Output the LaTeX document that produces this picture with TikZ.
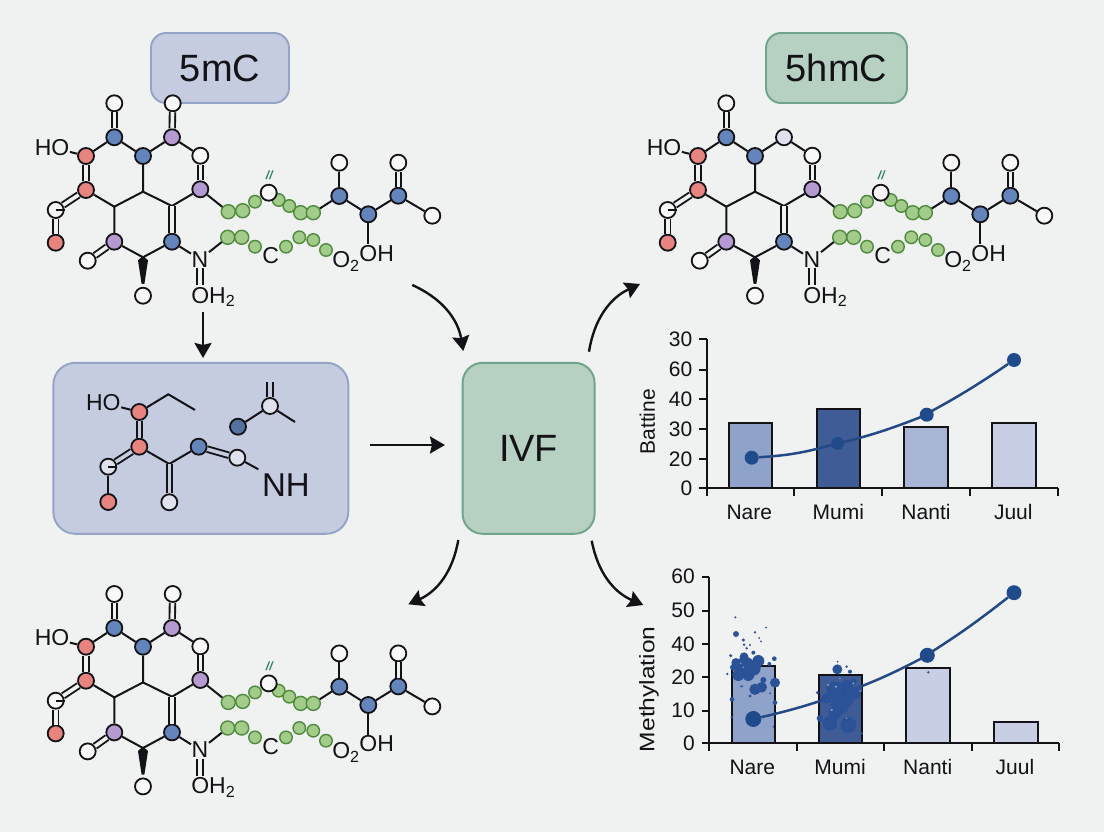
\documentclass[tikz,border=0pt]{standalone}
\usepackage{fontspec}
\setmainfont{Liberation Sans}
\usepackage{xcolor}
\usetikzlibrary{positioning, arrows.meta, calc}

\definecolor{bgcol}{HTML}{F0F1F1}
\definecolor{ink}{HTML}{131317}
\definecolor{blueboxfill}{HTML}{C5CCE0}
\definecolor{blueboxline}{HTML}{95A3C6}
\definecolor{greenboxfill}{HTML}{B6D0C1}
\definecolor{greenboxline}{HTML}{6FA38A}
\definecolor{atomred}{HTML}{E88480}
\definecolor{atomblue}{HTML}{6485BC}
\definecolor{atompurple}{HTML}{B59AD2}
\definecolor{atompale}{HTML}{DFE1EC}
\definecolor{atomwhite}{HTML}{F8F8F8}
\definecolor{chainfill}{HTML}{A3CC8B}
\definecolor{chainline}{HTML}{4F8A3D}
\definecolor{markcol}{HTML}{2F7D5F}
\definecolor{trendcol}{HTML}{244A86}
\definecolor{dotcol}{HTML}{1F4A8C}
\definecolor{spotcol}{HTML}{2B5296}
\definecolor{barone}{HTML}{8FA2CA}
\definecolor{bartwo}{HTML}{3F5C96}
\definecolor{barthree}{HTML}{A9B5D4}
\definecolor{barfour}{HTML}{C8CEE4}

\newcommand{\sz}[1]{\fontsize{#1}{#1}\selectfont}

\tikzset{
  atom/.style={circle, draw=ink, line width=1.8pt, minimum size=16pt, inner sep=0pt},
  redatom/.style={atom, fill=atomred},
  blueatom/.style={atom, fill=atomblue},
  purpleatom/.style={atom, fill=atompurple},
  whiteatom/.style={atom, fill=atomwhite},
  bead/.style={circle, draw=chainline, line width=1.4pt, fill=chainfill, minimum size=14pt, inner sep=0pt},
  smallbead/.style={bead, minimum size=12.5pt},
  lab/.style={inner sep=0.5pt, text=ink, font=\sz{23}},
  bond/.style={line width=2pt, draw=ink, line join=round},
  dbond/.style={line width=1.9pt, draw=ink, double=bgcol, double distance=3.6pt},
  bigbox/.style={draw, line width=1.9pt, rounded corners=#1, text=ink, font=\sz{38}},
  arrow/.style={-{Stealth[length=15pt, width=17pt, inset=2pt]}, line width=2.4pt, draw=ink},
  axisline/.style={line width=1.9pt, draw=ink},
  barbox/.style={line width=2pt, draw=ink},
  trend/.style={line width=2.5pt, draw=trendcol},
  dot/.style={circle, fill=dotcol, minimum size=#1, inner sep=0pt},
  ticklab/.style={inner sep=0pt, text=ink, font=\sz{21}},
  pics/molecule/.style 2 args={code={
    \node[whiteatom] (-o1) at (114.3,103.3) {};
    \node[blueatom] (-a1) at (114.3,137.3) {};
    \node[#1] (-a2) at (172,137.3) {};
    \node[blueatom] (-a3) at (143,156) {};
    \node[whiteatom] (-o3) at (200.3,155.7) {};
    \node[redatom] (-r1) at (86,156) {};
    \node[redatom] (-r2) at (86,190) {};
    \node[whiteatom] (-c1) at (55.7,210) {};
    \node[redatom] (-r3) at (55.7,242.7) {};
    \node[purpleatom] (-p3) at (200.3,189.3) {};
    \node[purpleatom] (-p4) at (114.3,241.7) {};
    \node[blueatom] (-b4) at (172,241.7) {};
    \node[whiteatom] (-o4) at (87.7,260.7) {};
    \node[whiteatom] (-o5) at (143,295.7) {};
    \coordinate (-j1) at (143,191.7);
    \coordinate (-j2) at (114.3,206.7);
    \coordinate (-j3) at (172,206);
    \coordinate (-j4) at (143,257.3);
    \coordinate (-oe) at (200,285);
    \node[lab] (-ho) at (52,147.3) {HO};
    \node[lab] (-n) at (200,259.3) {N};
    \node[lab] (-oh2) at (213.3,297) {OH\textsubscript{2}};
    \node[bead] (-g1) at (228.3,211.7) {};
    \node[bead] (-g2) at (242.7,210.7) {};
    \node[smallbead] (-g3) at (255,201.7) {};
    \node[smallbead] (-g5) at (278.7,200) {};
    \node[smallbead] (-g6) at (289.3,206) {};
    \node[bead] (-g7) at (300.7,212.7) {};
    \node[bead] (-g8) at (313.3,212.7) {};
    \node[atom, fill=#2] (-g4) at (268.7,192.7) {};
    \node[inner sep=0pt, text=markcol, font=\sz{12}\itshape\bfseries] (-mark) at (269.3,175.7) {//};
    \node[bead] (-h1) at (227.7,237.3) {};
    \node[bead] (-h2) at (241.7,237.3) {};
    \node[smallbead] (-h3) at (255,246.7) {};
    \node[lab] (-c) at (270.7,256) {C};
    \node[smallbead] (-h4) at (286,246.7) {};
    \node[smallbead] (-h5) at (299.3,237.3) {};
    \node[smallbead] (-h6) at (313.3,240) {};
    \node[smallbead] (-h7) at (326,250) {};
    \node[lab] (-o2) at (346,261.7) {O\textsubscript{2}};
    \node[blueatom] (-t1) at (339.3,196) {};
    \node[whiteatom] (-t2) at (339.3,162.7) {};
    \node[blueatom] (-t3) at (368.3,214.3) {};
    \node[lab] (-oh) at (376.7,253.3) {OH};
    \node[blueatom] (-t4) at (398.3,195.7) {};
    \node[whiteatom] (-t5) at (398.3,162.7) {};
    \node[whiteatom] (-t6) at (432.3,215.7) {};
    \draw[bond] (-ho) -- (-r1) -- (-a1) -- (-a3) -- (-a2) -- (-o3);
    \draw[bond] (-a3) -- (-j1) -- (-j2) -- (-r2);
    \draw[bond] (-j1) -- (-j3) -- (-p3) -- (-g1);
    \draw[bond] (-j2) -- (-p4) -- (-j4) -- (-b4) -- (-n) -- (-h1);
    \draw[bond] (-g8) -- (-t1) -- (-t3) -- (-t4) -- (-t6);
    \draw[bond] (-t1) -- (-t2);
    \draw[bond] (-t3) -- (-t3 |- -oh.north);
    \draw[dbond] (-a1) -- (-o1);
    \draw[dbond] (-r1) -- (-r2);
    \draw[dbond] (-r2) -- (-c1);
    \draw[dbond] (-c1) -- (-r3);
    \draw[dbond] (-o3) -- (-p3);
    \draw[dbond] (-j3) -- (-b4);
    \draw[dbond] (-p4) -- (-o4);
    \draw[dbond] (-n) -- (-oe);
    \draw[dbond] (-t4) -- (-t5);
    \draw[bond] (-c1.center) -- (-c1.east);
    \fill[ink] ($(-j4)+(0,-1.5)$) -- ($(-j4)+(5,3)$) -- ($(-o5.north)+(1.4,-3)$) -- ($(-o5.north)+(-1.4,-3)$) -- ($(-j4)+(-5,3)$) -- cycle;
  }}
}

\begin{document}
\begin{tikzpicture}[x=1pt, y=-1pt]
  \useasboundingbox (0,0) rectangle (1104,832);
  \fill[bgcol] (0,0) rectangle (1104,832);

  % title boxes
  \node[bigbox=15pt, fill=blueboxfill, draw=blueboxline, minimum width=138pt, minimum height=70pt] (mc) at (220,68) {5mC};
  \node[bigbox=15pt, fill=greenboxfill, draw=greenboxline, minimum width=141pt, minimum height=70pt] (hmc) at (836.5,68) {5hmC};

  % molecules
  \pic (ma) at (0,0) {molecule={purpleatom}{atomwhite}};
  \pic (mb) at (612,0) {molecule={atom, fill=atompale}{atomwhite!90!pink}};
  \pic (mc2) at (0,490.7) {molecule={purpleatom}{atomwhite}};
  \node[whiteatom] (ma-top) at (172.7,103.3) {};
  \node[whiteatom] (mc2-top) at (172.7,594) {};
  \draw[dbond] (ma-a2) -- (ma-top);
  \draw[dbond] (mc2-a2) -- (mc2-top);

  % middle boxes
  \node[bigbox=22pt, fill=blueboxfill, draw=blueboxline, minimum width=295pt, minimum height=171pt] (mid) at (200.8,448.3) {};
  \node[bigbox=20pt, fill=greenboxfill, draw=greenboxline, minimum width=132pt, minimum height=171pt, right=112.4pt of mid] (ivf) {IVF};

  % fragment inside the middle box
  \begin{scope}[dbond/.append style={double=blueboxfill}, whiteatom/.append style={fill=atompale}]
    \node[lab] (f-ho) at (103.3,402.7) {HO};
    \node[redatom] (f-r1) at (139.3,412) {};
    \node[redatom] (f-r2) at (139.3,446.7) {};
    \node[whiteatom] (f-c) at (108.3,466.7) {};
    \node[redatom] (f-r3) at (108.3,502) {};
    \node[whiteatom] (f-o) at (169.3,502.3) {};
    \node[blueatom] (f-b) at (198.7,446.7) {};
    \node[whiteatom] (f-w) at (237.3,457.7) {};
    \node[whiteatom] (f-u) at (270,406) {};
    \node[atom, fill=atomblue!85!black] (f-d) at (238,426.7) {};
    \node[lab, font=\sz{33}] (f-nh) at (286,485) {NH};
    \coordinate (f-e1) at (168.3,394.3);
    \coordinate (f-e2) at (195,410);
    \coordinate (f-j) at (169.3,464);
    \coordinate (f-e3) at (258.3,469.3);
    \coordinate (f-e4) at (270,381.7);
    \coordinate (f-e5) at (295,422);
    \draw[bond] (f-ho) -- (f-r1) -- (f-e1) -- (f-e2);
    \draw[bond] (f-r2) -- (f-j) -- (f-b);
    \draw[bond] (f-w) -- (f-e3);
    \draw[bond] (f-d) -- (f-u) -- (f-e5);
    \draw[bond] (f-c) -- (f-r3);
    \draw[bond] (f-c.center) -- (f-c.east);
    \draw[dbond] (f-r1) -- (f-r2);
    \draw[dbond] (f-r2) -- (f-c);
    \draw[dbond] (f-j) -- (f-o);
    \draw[dbond] (f-b) -- (f-w);
    \draw[dbond] (f-u) -- (f-e4);
  \end{scope}

  % arrows
  \coordinate (s1) at (203,312);
  \coordinate (e1) at (203,358);
  \coordinate (s2) at (412.3,285);
  \coordinate (e2) at (463.3,351);
  \coordinate (s3) at (370,445);
  \coordinate (e3) at (445,445);
  \coordinate (s4) at (458.3,540);
  \coordinate (e4) at (408.3,604.3);
  \coordinate (s5) at (589,351.7);
  \coordinate (e5) at (640,284);
  \coordinate (s6) at (591.7,540.7);
  \coordinate (e6) at (643.3,605);
  \draw[arrow] (s1) -- (e1);
  \draw[arrow] (s2) to[bend left=28] (e2);
  \draw[arrow] (s3) -- (e3);
  \draw[arrow] (s4) to[bend left=28] (e4);
  \draw[arrow] (s5) to[bend left=28] (e5);
  \draw[arrow] (s6) to[bend right=28] (e6);

  % upper chart
  \foreach \xx/\ytop/\col in {728.7/423.3/barone, 816.7/408.7/bartwo, 904.3/427.3/barthree, 992.3/423.3/barfour}
    \draw[barbox, fill=\col] (\xx,488.3) rectangle ++(43.2,\ytop-488.3);
  \draw[axisline] (706.7,339.3) -- (706.7,496);
  \draw[axisline] (706.7,488.3) -- (1057.7,488.3);
  \foreach \xx in {793.7, 882, 969.7, 1057.7}
    \draw[axisline] (\xx,488.3) -- ++(0,7.5);
  \foreach \yy/\val in {339.3/30, 369.7/60, 399.3/40, 429.3/30, 459/20, 488.3/0}
    \draw[axisline] (706.7,\yy) -- ++(-7.5,0) node[ticklab, left=6pt] {\val};
  \foreach \xx/\nm in {749.3/Nare, 838.3/Mumi, 926/Nanti, 1013.3/Juul}
    \node[ticklab] at (\xx,512.3) {\nm};
  \node[ticklab, rotate=90] (ylaba) at (647.3,421.7) {Battine};
  \node[dot=14pt] (pa) at (751.7,457.7) {};
  \node[dot=13pt] (pb) at (837.7,443.3) {};
  \node[dot=14pt] (pc) at (926.7,414.7) {};
  \node[dot=14pt] (pd) at (1014,360) {};
  \draw[trend] (pa) to[bend right=6] (pb) to[bend right=4] (pc) to[bend right=3] (pd);

  % lower chart
  \foreach \xx/\ytop/\col in {731.7/666/barone, 819/674.7/bartwo, 906.3/668.3/barfour, 994.3/722/barfour}
    \draw[barbox, fill=\col] (\xx,743.3) rectangle ++(43.3,\ytop-743.3);
  \draw[axisline] (709.3,576.7) -- (709.3,751);
  \draw[axisline] (709.3,743.3) -- (1059.3,743.3);
  \foreach \xx in {796.7, 884, 971.7, 1059.3}
    \draw[axisline] (\xx,743.3) -- ++(0,7.5);
  \foreach \yy/\val in {576.7/60, 610.7/50, 644/40, 677.3/20, 710.7/10, 743.3/0}
    \draw[axisline] (709.3,\yy) -- ++(-7.5,0) node[ticklab, left=6pt] {\val};
  \foreach \xx/\nm in {752.3/Nare, 840/Mumi, 927.7/Nanti, 1015/Juul}
    \node[ticklab] at (\xx,767.3) {\nm};
  \node[ticklab, rotate=90, xscale=1.17] (ylabb) at (649,689.3) {Methylation};
  \node[dot=16pt] (qa) at (753.3,719) {};
  \coordinate (qb) at (837.7,695);
  \node[dot=15pt] (qc) at (927.3,655.3) {};
  \node[dot=15pt] (qd) at (1014,592.7) {};
  \draw[trend] (qa) to[bend right=3] (qb) to[bend right=4] (qc) to[bend right=3] (qd);

  % speckles on the lower bars
  \begin{scope}[shift={(720,610)}, x=.3333pt, y=-.3333pt]
    \foreach \xx/\yy/\rr in {72/140/13, 115/153/18, 48/158/14, 75/170/30, 100/175/22, 55/195/18, 85/195/18, 40/172/10, 48/72/9, 105/67/4, 138/53/3, 46/22/3.5, 70/90/5, 72/104/4, 90/105/3.5, 117/84/3, 123/94/3, 32/137/5, 22/192/4, 163/146/7, 148/162/6, 130/210/9, 165/218/15, 105/238/17, 125/232/16, 36/268/7, 165/278/7, 35/322/4, 160/350/3, 65/230/5, 90/258/5, 150/250/3, 80/115/4, 100/128/6}
      \fill[spotcol] (\xx,\yy) circle (\rr);
    \foreach \xx/\yy/\rr in {352/178/15, 353/155/3, 380/170/4, 390/185/6, 345/240/26, 380/230/20, 405/250/18, 320/265/16, 360/285/28, 380/270/20, 330/340/22, 385/345/24, 300/325/10, 415/240/12, 292/248/5, 425/370/4, 345/310/20, 400/215/10, 625/187/4}
      \fill[spotcol] (\xx,\yy) circle (\rr);
    \foreach \xx/\yy/\rr in {325/225/3.5, 348/230/3.5, 335/300/3.5, 400/220/3, 360/205/2.5, 380/325/2.5, 420/243/2.5, 62/160/2.5, 70/172/2.5, 65/232/2.5}
      \fill[barone] (\xx,\yy) circle (\rr);
  \end{scope}
\end{tikzpicture}
\end{document}
